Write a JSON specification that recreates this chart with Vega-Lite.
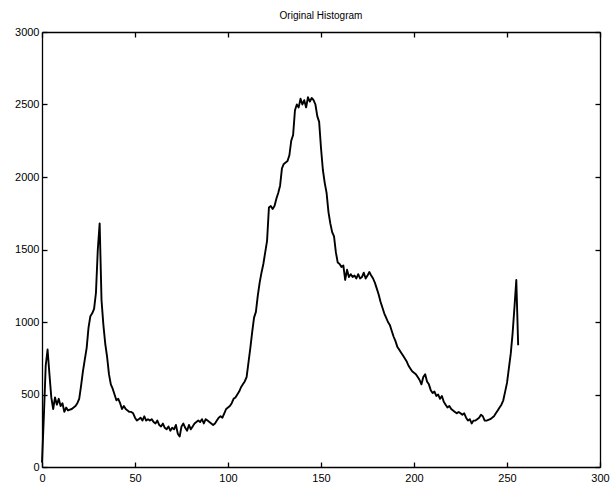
{
  "$schema": "https://vega.github.io/schema/vega-lite/v6.json",
  "autosize": "none",
  "width": 558,
  "height": 435,
  "padding": {"left": 42, "top": 32, "right": 11, "bottom": 22},
  "background": "white",
  "title": {"text": "Original Histogram", "font": "Liberation Sans", "fontSize": 10, "fontWeight": "normal", "color": "black", "offset": 5},
  "config": {
    "view": {"stroke": null},
    "axis": {"grid": false, "domainColor": "black", "tickColor": "black", "labelColor": "black", "labelFont": "Liberation Sans", "labelFontSize": 11, "tickSize": -5, "domainWidth": 1.3, "tickWidth": 1.3, "title": null, "format": "d"}
  },
  "data": {"values": [
    {"x":0,"c":30},{"x":1,"c":350},{"x":2,"c":700},{"x":3,"c":810},{"x":4,"c":640},{"x":5,"c":480},{"x":6,"c":400},{"x":7,"c":480},{"x":8,"c":430},{"x":9,"c":470},
    {"x":10,"c":420},{"x":11,"c":440},{"x":12,"c":380},{"x":13,"c":410},{"x":14,"c":390},{"x":15,"c":395},{"x":16,"c":400},{"x":17,"c":410},{"x":18,"c":420},{"x":19,"c":440},
    {"x":20,"c":470},{"x":21,"c":560},{"x":22,"c":660},{"x":23,"c":740},{"x":24,"c":820},{"x":25,"c":960},{"x":26,"c":1040},{"x":27,"c":1060},{"x":28,"c":1090},{"x":29,"c":1200},
    {"x":30,"c":1500},{"x":31,"c":1680},{"x":32,"c":1150},{"x":33,"c":980},{"x":34,"c":850},{"x":35,"c":760},{"x":36,"c":640},{"x":37,"c":570},{"x":38,"c":540},{"x":39,"c":500},
    {"x":40,"c":460},{"x":41,"c":470},{"x":42,"c":440},{"x":43,"c":400},{"x":44,"c":420},{"x":45,"c":400},{"x":46,"c":390},{"x":47,"c":380},{"x":48,"c":380},{"x":49,"c":370},
    {"x":50,"c":340},{"x":51,"c":320},{"x":52,"c":330},{"x":53,"c":340},{"x":54,"c":320},{"x":55,"c":350},{"x":56,"c":320},{"x":57,"c":330},{"x":58,"c":320},{"x":59,"c":330},
    {"x":60,"c":310},{"x":61,"c":300},{"x":62,"c":320},{"x":63,"c":290},{"x":64,"c":280},{"x":65,"c":300},{"x":66,"c":270},{"x":67,"c":260},{"x":68,"c":280},{"x":69,"c":250},
    {"x":70,"c":270},{"x":71,"c":260},{"x":72,"c":290},{"x":73,"c":230},{"x":74,"c":210},{"x":75,"c":280},{"x":76,"c":300},{"x":77,"c":270},{"x":78,"c":250},{"x":79,"c":290},
    {"x":80,"c":260},{"x":81,"c":280},{"x":82,"c":300},{"x":83,"c":310},{"x":84,"c":320},{"x":85,"c":310},{"x":86,"c":330},{"x":87,"c":300},{"x":88,"c":330},{"x":89,"c":320},
    {"x":90,"c":310},{"x":91,"c":300},{"x":92,"c":290},{"x":93,"c":300},{"x":94,"c":320},{"x":95,"c":340},{"x":96,"c":350},{"x":97,"c":340},{"x":98,"c":370},{"x":99,"c":400},
    {"x":100,"c":410},{"x":101,"c":420},{"x":102,"c":440},{"x":103,"c":470},{"x":104,"c":480},{"x":105,"c":500},{"x":106,"c":520},{"x":107,"c":550},{"x":108,"c":570},{"x":109,"c":590},
    {"x":110,"c":620},{"x":111,"c":720},{"x":112,"c":820},{"x":113,"c":930},{"x":114,"c":1030},{"x":115,"c":1070},{"x":116,"c":1180},{"x":117,"c":1270},{"x":118,"c":1340},{"x":119,"c":1400},
    {"x":120,"c":1480},{"x":121,"c":1560},{"x":122,"c":1790},{"x":123,"c":1800},{"x":124,"c":1780},{"x":125,"c":1800},{"x":126,"c":1850},{"x":127,"c":1890},{"x":128,"c":1940},{"x":129,"c":2060},
    {"x":130,"c":2090},{"x":131,"c":2100},{"x":132,"c":2110},{"x":133,"c":2150},{"x":134,"c":2250},{"x":135,"c":2290},{"x":136,"c":2460},{"x":137,"c":2500},{"x":138,"c":2480},{"x":139,"c":2540},
    {"x":140,"c":2500},{"x":141,"c":2530},{"x":142,"c":2480},{"x":143,"c":2550},{"x":144,"c":2520},{"x":145,"c":2545},{"x":146,"c":2530},{"x":147,"c":2500},{"x":148,"c":2420},{"x":149,"c":2380},
    {"x":150,"c":2200},{"x":151,"c":2050},{"x":152,"c":1960},{"x":153,"c":1890},{"x":154,"c":1760},{"x":155,"c":1680},{"x":156,"c":1620},{"x":157,"c":1590},{"x":158,"c":1480},{"x":159,"c":1410},
    {"x":160,"c":1400},{"x":161,"c":1380},{"x":162,"c":1390},{"x":163,"c":1290},{"x":164,"c":1360},{"x":165,"c":1310},{"x":166,"c":1330},{"x":167,"c":1310},{"x":168,"c":1320},{"x":169,"c":1300},
    {"x":170,"c":1330},{"x":171,"c":1300},{"x":172,"c":1310},{"x":173,"c":1340},{"x":174,"c":1300},{"x":175,"c":1320},{"x":176,"c":1345},{"x":177,"c":1320},{"x":178,"c":1300},{"x":179,"c":1270},
    {"x":180,"c":1230},{"x":181,"c":1190},{"x":182,"c":1140},{"x":183,"c":1100},{"x":184,"c":1060},{"x":185,"c":1030},{"x":186,"c":1000},{"x":187,"c":980},{"x":188,"c":940},{"x":189,"c":900},
    {"x":190,"c":870},{"x":191,"c":830},{"x":192,"c":810},{"x":193,"c":790},{"x":194,"c":770},{"x":195,"c":750},{"x":196,"c":730},{"x":197,"c":700},{"x":198,"c":680},{"x":199,"c":660},
    {"x":200,"c":650},{"x":201,"c":640},{"x":202,"c":620},{"x":203,"c":600},{"x":204,"c":570},{"x":205,"c":620},{"x":206,"c":640},{"x":207,"c":590},{"x":208,"c":570},{"x":209,"c":530},
    {"x":210,"c":510},{"x":211,"c":520},{"x":212,"c":490},{"x":213,"c":500},{"x":214,"c":470},{"x":215,"c":490},{"x":216,"c":450},{"x":217,"c":430},{"x":218,"c":410},{"x":219,"c":420},
    {"x":220,"c":400},{"x":221,"c":390},{"x":222,"c":380},{"x":223,"c":370},{"x":224,"c":380},{"x":225,"c":370},{"x":226,"c":360},{"x":227,"c":370},{"x":228,"c":340},{"x":229,"c":320},
    {"x":230,"c":330},{"x":231,"c":300},{"x":232,"c":320},{"x":233,"c":320},{"x":234,"c":330},{"x":235,"c":340},{"x":236,"c":360},{"x":237,"c":350},{"x":238,"c":320},{"x":239,"c":320},
    {"x":240,"c":325},{"x":241,"c":330},{"x":242,"c":340},{"x":243,"c":350},{"x":244,"c":370},{"x":245,"c":390},{"x":246,"c":410},{"x":247,"c":430},{"x":248,"c":460},{"x":249,"c":520},
    {"x":250,"c":580},{"x":251,"c":680},{"x":252,"c":780},{"x":253,"c":920},{"x":254,"c":1100},{"x":255,"c":1290},{"x":256,"c":840}
  ]},
  "resolve": {"axis": {"x": "independent", "y": "independent"}},
  "layer": [
    {
      "mark": {"type": "line", "color": "black", "strokeWidth": 1.9, "strokeJoin": "round"},
      "encoding": {
        "x": {"field": "x", "type": "quantitative", "scale": {"domain": [0, 300], "nice": false, "zero": false}, "axis": {"orient": "bottom", "values": [0,50,100,150,200,250,300], "labelPadding": 10, "labelFlush": false}},
        "y": {"field": "c", "type": "quantitative", "scale": {"domain": [0, 3000], "nice": false}, "axis": {"orient": "left", "values": [0,500,1000,1500,2000,2500,3000], "labelPadding": 8}}
      }
    },
    {
      "mark": {"type": "line", "opacity": 0},
      "encoding": {
        "x": {"field": "x", "type": "quantitative", "axis": {"orient": "top", "values": [0,50,100,150,200,250,300], "labels": false}},
        "y": {"field": "c", "type": "quantitative", "axis": {"orient": "right", "values": [0,500,1000,1500,2000,2500,3000], "labels": false}}
      }
    }
  ]
}
